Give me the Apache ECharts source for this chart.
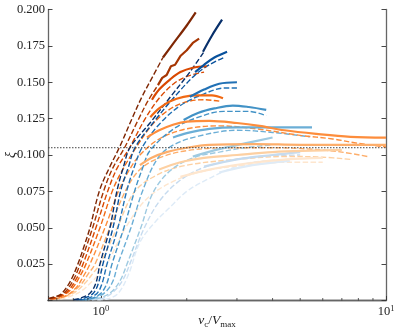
<!DOCTYPE html>
<html><head><meta charset="utf-8">
<script src="https://cdn.jsdelivr.net/npm/echarts@6/dist/echarts.min.js"></script>
<style>html,body{margin:0;padding:0;background:#fff}#c{width:399px;height:330px}</style>
</head><body><div id="c"></div>
<script>
// ---- colours (dark -> light) ----
const orangeColors = ['#7f2704','#a63603','#d94801','#f16913','#fd8d3c','#fdae6b','#fdd0a2','#fee6ce'];
const blueColors   = ['#08306b','#08519c','#2171b5','#4292c6','#6baed6','#9ecae1','#c6dbef','#deebf7'];

// ---- axis settings / ticks ----
const xMin = 0.652, xMax = 10;
const yMin = 0, yMax = 0.2, yStep = 0.025;
const xMajorTicks = [1, 10];
const xMinorTicks = [0.7, 0.8, 0.9, 2, 3, 4, 5, 6, 7, 8, 9];
const refLineY = 0.105;

// ---- orange family: dashed curves [x, xi] ----
const o1Dashed = [[0.655,0.0015],[0.70,0.003],[0.73,0.005],[0.78,0.013],[0.83,0.025],[0.875,0.038],[0.915,0.05],[0.99,0.076],[1.075,0.092],[1.166,0.106],[1.285,0.125],[1.393,0.140],[1.52,0.154],[1.65,0.167]];
const o2Dashed = [[0.66,0.0012],[0.71,0.003],[0.75,0.006],[0.80,0.014],[0.845,0.025],[0.935,0.05],[1.025,0.076],[1.10,0.091],[1.21,0.105],[1.35,0.124],[1.46,0.137],[1.585,0.148]];
const o3Dashed = [[0.665,0.001],[0.72,0.003],[0.77,0.007],[0.82,0.015],[0.865,0.025],[0.96,0.05],[1.06,0.076],[1.14,0.091],[1.26,0.105],[1.43,0.125],[1.6,0.139],[1.8,0.149],[2.0,0.154],[2.3,0.157]];
const o4Dashed = [[0.67,0.001],[0.73,0.003],[0.79,0.008],[0.84,0.016],[0.886,0.025],[0.992,0.05],[1.10,0.076],[1.20,0.091],[1.327,0.105],[1.5,0.120],[1.7,0.130],[1.95,0.136],[2.3,0.138],[2.6,0.137]];
const o5Dashed = [[0.68,0.001],[0.75,0.003],[0.82,0.009],[0.87,0.017],[0.915,0.025],[1.033,0.05],[1.157,0.076],[1.26,0.090],[1.37,0.100],[1.6,0.111],[2.0,0.118],[2.6,0.120],[3.5,0.118],[5.0,0.1135],[6.5,0.111],[8.0,0.108],[10,0.1055]];
const o6Dashed = [[0.69,0.001],[0.77,0.004],[0.85,0.011],[0.90,0.018],[0.953,0.025],[1.075,0.05],[1.224,0.076],[1.37,0.090],[1.6,0.098],[2.0,0.103],[2.8,0.105],[4.0,0.105],[5.5,0.104],[7.0,0.102],[8.6,0.099]];
const o7Dashed = [[0.70,0.001],[0.80,0.005],[0.88,0.012],[0.94,0.019],[0.992,0.025],[1.14,0.05],[1.316,0.075],[1.6,0.087],[2.0,0.093],[3.0,0.097],[4.5,0.099],[6.0,0.0985],[7.5,0.097]];
const o8Dashed = [[0.72,0.001],[0.83,0.005],[0.93,0.013],[1.0,0.020],[1.05,0.025],[1.22,0.05],[1.45,0.070],[1.8,0.082],[2.3,0.089],[3.2,0.093],[4.5,0.095],[6.0,0.095]];

// ---- orange family: solid curves ----
const o1Solid = [[1.65,0.167],[1.8,0.177],[2.0,0.189],[2.15,0.198]];
const o2Solid = [[1.585,0.148],[1.64,0.153],[1.70,0.155],[1.76,0.161],[1.82,0.162],[1.9,0.168],[2.0,0.172],[2.1,0.177],[2.21,0.180]];
const o3Solid = [[1.51,0.138],[1.6,0.145],[1.75,0.152],[1.9,0.157],[2.1,0.160],[2.35,0.161]];
const o4Solid = [[1.49,0.126],[1.6,0.132],[1.75,0.137],[1.95,0.140],[2.2,0.141],[2.45,0.141],[2.68,0.139]];
const o5Solid = [[1.45,0.112],[1.6,0.117],[1.8,0.121],[2.0,0.123],[2.4,0.1235],[3.0,0.122],[3.6,0.120],[4.4,0.117],[5.7,0.1145],[7.5,0.1125],[10,0.112]];
const o6Solid = [[1.37,0.093],[1.5,0.098],[1.7,0.102],[2.0,0.105],[2.4,0.107],[3.5,0.1075],[5.0,0.107],[7.0,0.107],[10,0.107]];
const o7Solid = [[1.6,0.090],[1.9,0.095],[2.3,0.098],[3.0,0.100],[4.0,0.102],[5.5,0.103],[7.0,0.1035]];
const o8Solid = [[1.9,0.085],[2.4,0.090],[3.2,0.094],[4.5,0.097],[6.0,0.098]];

// ---- blue family: dashed curves ----
const b1Dashed = [[0.80,0.0005],[0.845,0.0015],[0.915,0.005],[0.96,0.012],[0.992,0.025],[1.075,0.05],[1.14,0.076],[1.2,0.092],[1.264,0.105],[1.486,0.122],[1.77,0.141],[2.05,0.157],[2.3,0.171]];
const b2Dashed = [[0.82,0.0005],[0.87,0.0015],[0.94,0.005],[0.98,0.012],[1.016,0.025],[1.102,0.05],[1.175,0.076],[1.25,0.092],[1.316,0.105],[1.55,0.124],[1.85,0.142],[2.14,0.155],[2.4,0.162],[2.7,0.167]];
const b3Dashed = [[0.84,0.0005],[0.90,0.0015],[0.97,0.005],[1.01,0.012],[1.05,0.025],[1.147,0.05],[1.234,0.076],[1.31,0.092],[1.393,0.105],[1.6,0.121],[1.9,0.134],[2.3,0.142],[2.7,0.146],[3.0,0.146]];
const b4Dashed = [[0.86,0.0005],[0.93,0.0015],[1.0,0.005],[1.05,0.012],[1.093,0.025],[1.204,0.05],[1.316,0.076],[1.40,0.091],[1.486,0.103],[1.8,0.118],[2.2,0.126],[2.7,0.130],[3.3,0.130],[3.8,0.127]];
const b5Dashed = [[0.88,0.0005],[0.96,0.002],[1.04,0.006],[1.10,0.013],[1.147,0.025],[1.274,0.05],[1.404,0.076],[1.585,0.098],[1.8,0.107],[2.2,0.113],[3.0,0.117],[4.0,0.1155],[5.4,0.1125]];
const b6Dashed = [[0.90,0.0005],[1.0,0.002],[1.09,0.006],[1.17,0.014],[1.234,0.025],[1.38,0.05],[1.522,0.074],[1.745,0.089],[2.1,0.098],[2.6,0.102],[3.2,0.105],[4.0,0.107]];
const b7Dashed = [[0.93,0.0005],[1.03,0.002],[1.12,0.007],[1.2,0.015],[1.28,0.028],[1.42,0.05],[1.6,0.068],[1.85,0.081],[2.2,0.090],[2.8,0.096],[3.6,0.099],[5.0,0.100]];
const b8Dashed = [[0.97,0.0005],[1.05,0.001],[1.15,0.005],[1.25,0.018],[1.37,0.040],[1.55,0.054],[1.745,0.064],[2.0,0.075],[2.35,0.083],[2.8,0.090],[3.4,0.095],[4.6,0.097]];

// ---- blue family: solid curves ----
const b1Solid = [[2.28,0.171],[2.45,0.182],[2.66,0.193]];
const b2Solid = [[2.14,0.157],[2.3,0.162],[2.5,0.167],[2.77,0.171]];
const b3Solid = [[2.05,0.140],[2.3,0.145],[2.6,0.149],[3.0,0.150]];
const b4Solid = [[1.95,0.124],[2.2,0.129],[2.5,0.132],[2.9,0.134],[3.3,0.133],[3.8,0.131]];
const b5Solid = [[1.79,0.112],[2.0,0.115],[2.4,0.118],[3.0,0.119],[4.0,0.119],[5.5,0.119]];
const b6Solid = [[2.1,0.099],[2.6,0.104],[3.2,0.108],[4.0,0.112]];
const b7Solid = [[2.3,0.092],[3.0,0.097],[4.0,0.100],[5.0,0.102]];
const b8Solid = [[2.6,0.088],[3.4,0.093],[4.6,0.096]];

const orangeDashed = [o1Dashed,o2Dashed,o3Dashed,o4Dashed,o5Dashed,o6Dashed,o7Dashed,o8Dashed];
const orangeSolid  = [o1Solid,o2Solid,o3Solid,o4Solid,o5Solid,o6Solid,o7Solid,o8Solid];
const blueDashed   = [b1Dashed,b2Dashed,b3Dashed,b4Dashed,b5Dashed,b6Dashed,b7Dashed,b8Dashed];
const blueSolid    = [b1Solid,b2Solid,b3Solid,b4Solid,b5Solid,b6Solid,b7Solid,b8Solid];

const FONT = 'Liberation Serif';
const series = [];
function dashedSeries(data, color) {
  return { type:'line', data, showSymbol:false, smooth:0.35, silent:true,
    lineStyle:{ color, width:1.4, type:[5.5,2.4] }, z:2 };
}
function solidSeries(data, color, smooth) {
  return { type:'line', data, showSymbol:false, smooth:smooth, silent:true,
    lineStyle:{ color, width:2.2 }, z:3 };
}
for (let i = orangeColors.length - 1; i >= 0; i--) {
  series.push(dashedSeries(blueDashed[i], blueColors[i]));
  series.push(dashedSeries(orangeDashed[i], orangeColors[i]));
}
for (let i = orangeColors.length - 1; i >= 0; i--) {
  series.push(solidSeries(blueSolid[i], blueColors[i], 0.35));
  series.push(solidSeries(orangeSolid[i], orangeColors[i], i === 1 ? false : 0.35));
}
// dotted reference line
series.push({ type:'line', data:[[xMin, refLineY],[xMax, refLineY]], showSymbol:false, silent:true,
  lineStyle:{ color:'#444', width:1, type:[1.5,1.5] }, z:4 });
// minor log ticks (bottom, pointing inward)
series.push({ type:'custom', silent:true, clip:false, z:10,
  data: xMinorTicks.map(v => [v, yMin]),
  renderItem(params, api) {
    const v = api.value(0);
    const pb = api.coord([v, yMin]);
    return { type:'line', shape:{ x1:pb[0], y1:pb[1], x2:pb[0], y2:pb[1]-2.5 },
      style:{ stroke:'#333', lineWidth:0.8 } };
  }
});

const isMajor = v => xMajorTicks.some(m => Math.abs(v - m) < 1e-6 * m);
const axisLineStyle = { color:'#666', width:1.3 };
const option = {
  animation:false,
  backgroundColor:'#fff',
  grid:{ left:48, right:13, top:9.5, bottom:29.5, containLabel:false, outerBoundsMode:'none' },
  xAxis:[{
    type:'log', logBase:10, min:xMin, max:xMax, position:'bottom',
    axisLine:{ show:true, lineStyle:axisLineStyle },
    axisTick:{ show:true, inside:true, length:4.5, lineStyle:{ color:'#333', width:0.9 } },
    splitLine:{ show:false },
    axisLabel:{ margin:4, color:'#222', fontFamily:FONT, showMinLabel:true, showMaxLabel:true,
      formatter: v => isMajor(v) ? '{b|10}{s|' + Math.round(Math.log10(v)) + '}' : '',
      rich:{ b:{ fontSize:12.5, fontFamily:FONT, color:'#222', lineHeight:15 },
             s:{ fontSize:8.5, fontFamily:FONT, color:'#222', lineHeight:8, verticalAlign:'top' } } },
    name:'{i|v}{sub|c}{n|/}{i|V}{sub|max}', nameLocation:'middle', nameGap:11, nameMoveOverlap:false,
    nameTextStyle:{ rich:{
      i:{ fontFamily:FONT, fontStyle:'italic', fontSize:13.5, color:'#222', lineHeight:18 },
      n:{ fontFamily:FONT, fontSize:13.5, color:'#222', lineHeight:18 },
      sub:{ fontFamily:FONT, fontSize:9, color:'#222', lineHeight:9, verticalAlign:'bottom' } } }
  },{
    type:'log', logBase:10, min:xMin, max:xMax, position:'top',
    axisLine:{ show:true, lineStyle:axisLineStyle },
    axisTick:{ show:false }, axisLabel:{ show:false }, splitLine:{ show:false }
  }],
  yAxis:[{
    type:'value', min:yMin, max:yMax, interval:yStep, position:'left',
    axisLine:{ show:true, lineStyle:axisLineStyle },
    axisTick:{ show:true, inside:true, length:4.5, lineStyle:{ color:'#333', width:0.9 } },
    splitLine:{ show:false },
    axisLabel:{ margin:3, color:'#222', fontFamily:FONT, fontSize:12.5,
      formatter: v => v === 0 ? '' : v.toFixed(3) },
    name:'ξ', nameLocation:'middle', nameGap:30, nameRotate:90, nameMoveOverlap:false,
    nameTextStyle:{ fontFamily:FONT, fontStyle:'italic', fontSize:14, color:'#222' }
  },{
    type:'value', min:yMin, max:yMax, interval:yStep, position:'right',
    axisLine:{ show:true, lineStyle:axisLineStyle },
    axisTick:{ show:true, inside:true, length:4.5, lineStyle:{ color:'#333', width:0.9 } },
    axisLabel:{ show:false }, splitLine:{ show:false }
  }],
  series
};
const chart = echarts.init(document.getElementById('c'), null, { renderer:'canvas' });
chart.setOption(option);
</script></body></html>
